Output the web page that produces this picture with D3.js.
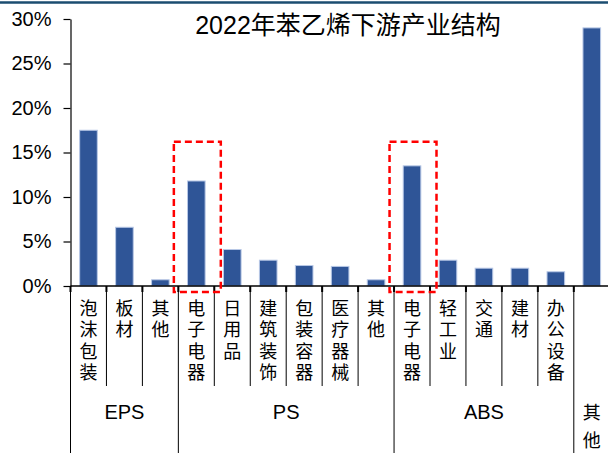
<!DOCTYPE html>
<html>
<head>
<meta charset="utf-8">
<script src="https://cdn.jsdelivr.net/npm/d3@7"></script>
<style>
  html, body { margin: 0; padding: 0; background: #ffffff; }
  svg { display: block; }
</style>
</head>
<body>
<svg id="chart" width="608" height="453"></svg>
<script>
// Downstream demand structure for styrene, 2022 (share of total, %)
const title = "2022年苯乙烯下游产业结构";
const categories = ["泡沫包装", "板材", "其他", "电子电器", "日用品", "建筑装饰", "包装容器", "医疗器械", "其他", "电子电器", "轻工业", "交通", "建材", "办公设备", ""];
const shares = [17.5, 6.6, 0.7, 11.8, 4.1, 2.9, 2.3, 2.2, 0.7, 13.5, 2.9, 2.0, 2.0, 1.6, 29.0];
const groupNames = ["EPS", "PS", "ABS", "其他"];
const groupSizes = [3, 6, 5, 1];
const yTicks = [0, 5, 10, 15, 20, 25, 30];
const highlighted = [3, 9];      // electronics & appliances in PS and ABS
const highlightTop = 16.2;       // upper edge of the dashed frames, in %

const latin = "'Liberation Sans', Arial, 'Noto Sans CJK SC', sans-serif";
const cjk = "'Noto Sans CJK SC', 'Liberation Sans', sans-serif";

const svg = d3.select("#chart");

const x = d3.scaleBand()
  .domain(d3.range(categories.length))
  .range([70.5, 70.5 + categories.length * 35.95])
  .paddingInner(0.51)
  .paddingOuter(0.255);

const y = d3.scaleLinear().domain([0, 30]).range([286, 19]);

const step = x.step();
const x0 = x.range()[0];
const edge = i => x0 + i * step;

// top rule
svg.append("line")
  .attr("x1", 0).attr("x2", 608)
  .attr("y1", 2.5).attr("y2", 2.5)
  .attr("stroke", "#1b4d70").attr("stroke-width", 2.5);

// title
svg.append("text")
  .attr("x", 348).attr("y", 25)
  .attr("text-anchor", "middle")
  .attr("dominant-baseline", "central")
  .attr("font-family", latin)
  .attr("font-size", 25)
  .attr("fill", "#000")
  .text(title);

// bars
svg.append("g").selectAll("rect")
  .data(shares)
  .join("rect")
  .attr("x", (d, i) => x(i))
  .attr("width", x.bandwidth())
  .attr("y", d => y(d))
  .attr("height", d => y(0) - y(d))
  .attr("fill", "#2f5597")
  .attr("stroke", "#b8c8e6")
  .attr("stroke-width", 1);

// y axis
const yAxis = svg.append("g")
  .attr("transform", `translate(${x0},0)`)
  .call(d3.axisLeft(y).tickValues(yTicks).tickFormat(d => d + "%")
    .tickSize(7).tickSizeOuter(0).tickPadding(12));
yAxis.select(".domain").attr("stroke", "#000").attr("stroke-width", 1.2);
yAxis.selectAll(".tick line").attr("stroke", "#000").attr("stroke-width", 1.2);
yAxis.selectAll(".tick text")
  .attr("font-family", latin).attr("font-size", 20).attr("fill", "#000");

// category boundaries below the baseline
const groupEdges = [0];
groupSizes.forEach((s, i) => groupEdges.push(groupEdges[i] + s));
const sep = svg.append("g");
d3.range(categories.length + 1).forEach(i => {
  const isGroup = groupEdges.includes(i);
  sep.append("line")
    .attr("x1", edge(i)).attr("x2", edge(i))
    .attr("y1", 286).attr("y2", isGroup ? 453 : 386)
    .attr("stroke", "#000").attr("stroke-width", 1);
  sep.append("line")
    .attr("x1", edge(i)).attr("x2", edge(i))
    .attr("y1", 286).attr("y2", 292)
    .attr("stroke", "#000").attr("stroke-width", 2);
});

// baseline
svg.append("line")
  .attr("x1", x0).attr("x2", 608)
  .attr("y1", 286).attr("y2", 286)
  .attr("stroke", "#000").attr("stroke-width", 1.5);

// vertical category labels (stacked characters)
svg.append("g").selectAll("text")
  .data(categories)
  .join("text")
  .attr("x", (d, i) => x(i) + x.bandwidth() / 2)
  .attr("y", 299)
  .attr("writing-mode", "vertical-rl")
  .attr("text-anchor", "start")
  .attr("letter-spacing", 3.5)
  .attr("font-family", cjk).attr("font-size", 18).attr("fill", "#000")
  .text(d => d);

// group labels
groupNames.forEach((g, gi) => {
  const a = edge(groupEdges[gi]);
  const b = edge(groupEdges[gi + 1]);
  if (groupSizes[gi] > 1) {
    svg.append("text")
      .attr("x", (a + b) / 2).attr("y", 412)
      .attr("text-anchor", "middle")
      .attr("dominant-baseline", "central")
      .attr("font-family", latin).attr("font-size", 20).attr("fill", "#000")
      .text(g);
  } else {
    // single-column group: characters stacked, wider gap between them
    const t = svg.append("text")
      .attr("x", (a + b) / 2).attr("y", 403)
      .attr("writing-mode", "vertical-rl")
      .attr("text-anchor", "start")
      .attr("font-family", cjk).attr("font-size", 18).attr("fill", "#000");
    const chars = Array.from(g);
    chars.forEach((ch, k) => {
      t.append("tspan")
        .attr("letter-spacing", k < chars.length - 1 ? 10 : 0)
        .text(ch);
    });
  }
});

// dashed highlight frames
svg.append("g").selectAll("rect")
  .data(highlighted)
  .join("rect")
  .attr("x", i => edge(i) - 4.5)
  .attr("width", step + 11)
  .attr("y", y(highlightTop))
  .attr("height", y(0) + 6 - y(highlightTop))
  .attr("fill", "none")
  .attr("stroke", "#ff0000")
  .attr("stroke-width", 2.5)
  .attr("stroke-dasharray", "7,4");
</script>
</body>
</html>
